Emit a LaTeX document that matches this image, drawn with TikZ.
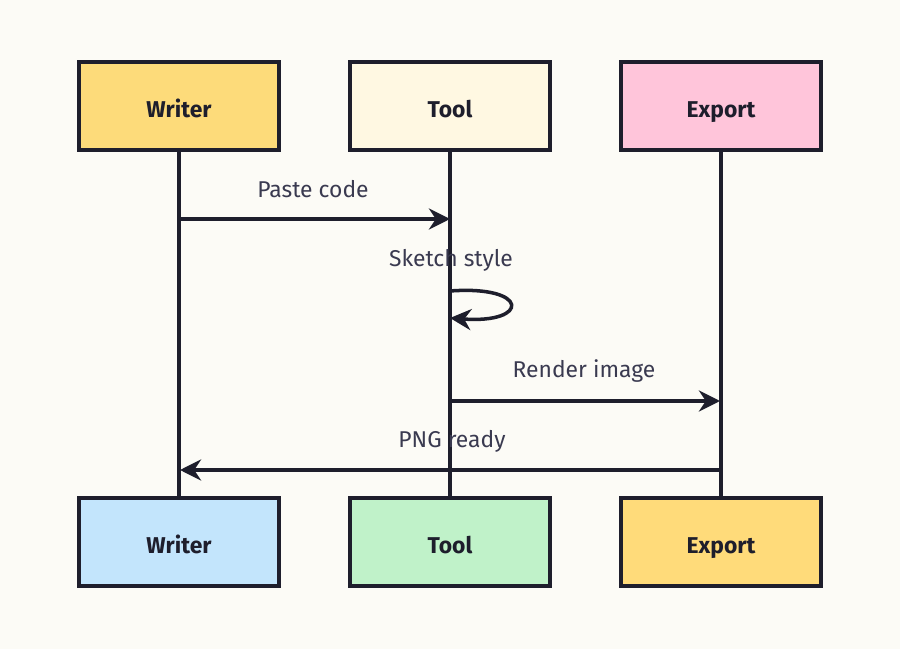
\documentclass[tikz,border=0pt]{standalone}
\usepackage{fontspec}
\setmainfont{Fira Sans}
\usetikzlibrary{arrows.meta}
\definecolor{bg}{HTML}{FCFBF6}
\definecolor{ink}{HTML}{1E1E2C}
\definecolor{txt}{HTML}{3A3A50}
\definecolor{writerTop}{HTML}{FDDB7A}
\definecolor{toolTop}{HTML}{FFF8E2}
\definecolor{exportTop}{HTML}{FFC5DA}
\definecolor{writerBot}{HTML}{C3E5FC}
\definecolor{toolBot}{HTML}{C0F2C9}
\definecolor{exportBot}{HTML}{FFDB7A}
\tikzset{
  actor/.style={draw=ink, line width=1.3pt, minimum width=2cm, minimum height=0.88cm, font=\bfseries\fontsize{6.5}{8}\selectfont, text=ink, text height=1.6ex, text depth=0.4ex},
  life/.style={ink, line width=1pt},
  msg/.style={ink, line width=1pt, -{Stealth[length=6pt,width=6pt]}},
  lbl/.style={font=\fontsize{6.5}{8}\selectfont, text=txt}
}
\begin{document}
\begin{tikzpicture}[x=0.01cm, y=-0.01cm]
        % Background
        \fill[bg] (0,0) rectangle (900,649);
        \useasboundingbox (0,0) rectangle (900,649);

        % Actors
        \node[actor, fill=writerTop] (wT) at (179,106) {Writer};
        \node[actor, fill=toolTop] (tT) at (450,106) {Tool};
        \node[actor, fill=exportTop] (eT) at (721,106) {Export};
        \node[actor, fill=writerBot] (wB) at (179,542) {Writer};
        \node[actor, fill=toolBot] (tB) at (450,542) {Tool};
        \node[actor, fill=exportBot] (eB) at (721,542) {Export};

        % Lifelines
        \draw[life] (wT) -- (wB);
        \draw[life] (tT) -- (tB);
        \draw[life] (eT) -- (eB);

        % Messages
        \coordinate (m1a) at (180,219); \coordinate (m1b) at (450,219);
        \coordinate (m2a) at (450,291); \coordinate (m2b) at (450,318);
        \coordinate (m3a) at (450,401); \coordinate (m3b) at (720,401);
        \coordinate (m4a) at (720,470); \coordinate (m4b) at (180,470);

        \draw[msg] (m1a) -- (m1b);
        \node[lbl] (pc) at (313,189) {Paste code};
        \draw[msg] (m2a) .. controls (530,285) and (530,324) .. (m2b);
        \node[lbl] (sk) at (451,260) {Sketch style};
        \draw[msg] (m3a) -- (m3b);
        \node[lbl] (ri) at (584,371) {Render image};
        \draw[msg] (m4a) -- (m4b);
        \node[lbl] (pr) at (452,441) {PNG ready};
\end{tikzpicture}
\end{document}
